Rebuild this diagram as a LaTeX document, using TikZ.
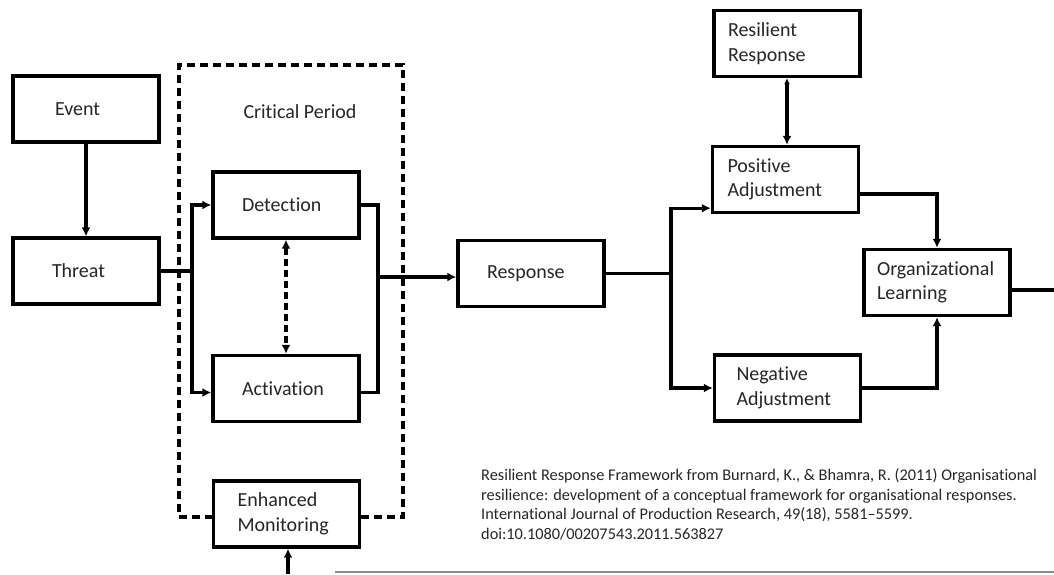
\documentclass[tikz,border=0pt]{standalone}
\usepackage{fontspec}
\setmainfont{Carlito}[Ligatures=NoCommon]
\usetikzlibrary{arrows.meta}
\tikzset{
  block/.style    = {shape=rectangle, draw, fill=white, line width=3.4pt,
          align=left, minimum height=66pt, inner ysep=0pt,
          inner xsep=#1, text width=146pt-2*#1,
          font=\fontsize{20}{24.5}\selectfont, text=black!85},
  block/.default  = 29pt,
  critical/.style = {draw, dash pattern=on 8pt off 5pt, line width=3.2pt},
  wire/.style     = {draw, line width=3.2pt},
  flow/.style     = {wire, -{Latex[length=9pt,width=9pt]}},
  cite/.style     = {align=left, inner sep=0pt, text=black!85,
          font=\fontsize{16.3}{19.7}\selectfont}
}
\begin{document}
\begin{tikzpicture}
  [
    x = 1pt,
    y = -1pt
  ]
  \useasboundingbox (0,0) rectangle (1054,574);

  % critical period
  \node [critical, minimum width=224pt, minimum height=452pt] (critbox) at (291,291) {};
  \node [font=\fontsize{20}{24}\selectfont, text=black!85] (critlabel) at (300,112) {Critical Period};

  \node [block=42pt] (event)    at (86,109)     {\raisebox{-2pt}{Event}};
  \node [block=39pt] (threat)   at (86,271)     {\raisebox{-2pt}{Threat}};
  \node [block]      (detect)   at (286,205)    {Detection};
  \node [block]      (activ)    at (286,388.5)  {\raisebox{-2pt}{Activation}};
  \node [block=24pt] (monitor)  at (286.5,514)  {Enhanced\\Monitoring};
  \node [block]      (response) at (531,273.5)  {Response};
  \node [block=14pt] (resil)    at (787,43.5)   {Resilient\\Response};
  \node [block=15pt] (posadj)   at (785.5,179.5){Positive\\Adjustment};
  \node [block=22pt] (negadj)   at (787.5,388)  {Negative\\Adjustment};
  \node [block=13pt] (orglearn) at (937,282.5)  {Organizational\\Learning};

  \coordinate (split)  at (192,271);
  \coordinate (join)   at (378,277);
  \coordinate (branch) at (671,275);
  \coordinate (exit)   at (1054,290);
  \coordinate (feed)   at (288,574);

  \draw [flow] (event) -- (threat);
  \draw [wire] (threat.east) -- (split);
  \draw [flow] (split) |- (detect.west);
  \draw [flow] (split) |- ([yshift=-4pt]activ.west);
  \draw [flow, {Latex[length=9pt,width=9pt]}-{Latex[length=9pt,width=9pt]}, dash pattern=on 7pt off 4pt]
    (detect) -- (activ);
  \draw [wire] (detect.east) -| (join);
  \draw [wire] ([yshift=-4pt]activ.east) -| (join);
  \draw [flow] (join) -- (join -| response.west);
  \draw [flow] (feed) -- (feed |- monitor.south);

  \draw [wire] (response.east) -- (response.east -| branch);
  \draw [flow] (branch) |- ([yshift=6pt]posadj.south west);
  \draw [flow] (branch) |- (negadj.west);
  \draw [flow, {Latex[length=6pt,width=6pt]}-{Latex[length=9pt,width=9pt]}]
    (resil.south) -- (resil.south |- posadj.north);
  \draw [flow] ([yshift=-14.5pt]posadj.east) -| (orglearn.north);
  \draw [flow] (negadj.east) -| (orglearn.south);
  \draw [wire] ([yshift=-7.5pt]orglearn.east) -- (exit);

  \node [cite, anchor=west] (source) at (481,504.5)
    {Resilient Response Framework from Burnard, K., \& Bhamra, R. (2011) Organisational\\
     resilience: development of a conceptual framework for organisational responses.\\
     International Journal of Production Research, 49(18), 5581--5599.\\
     doi:10.1080/00207543.2011.563827};

  \draw [black!45, line width=2pt] (335,572) -- (1054,572);
\end{tikzpicture}
\end{document}
